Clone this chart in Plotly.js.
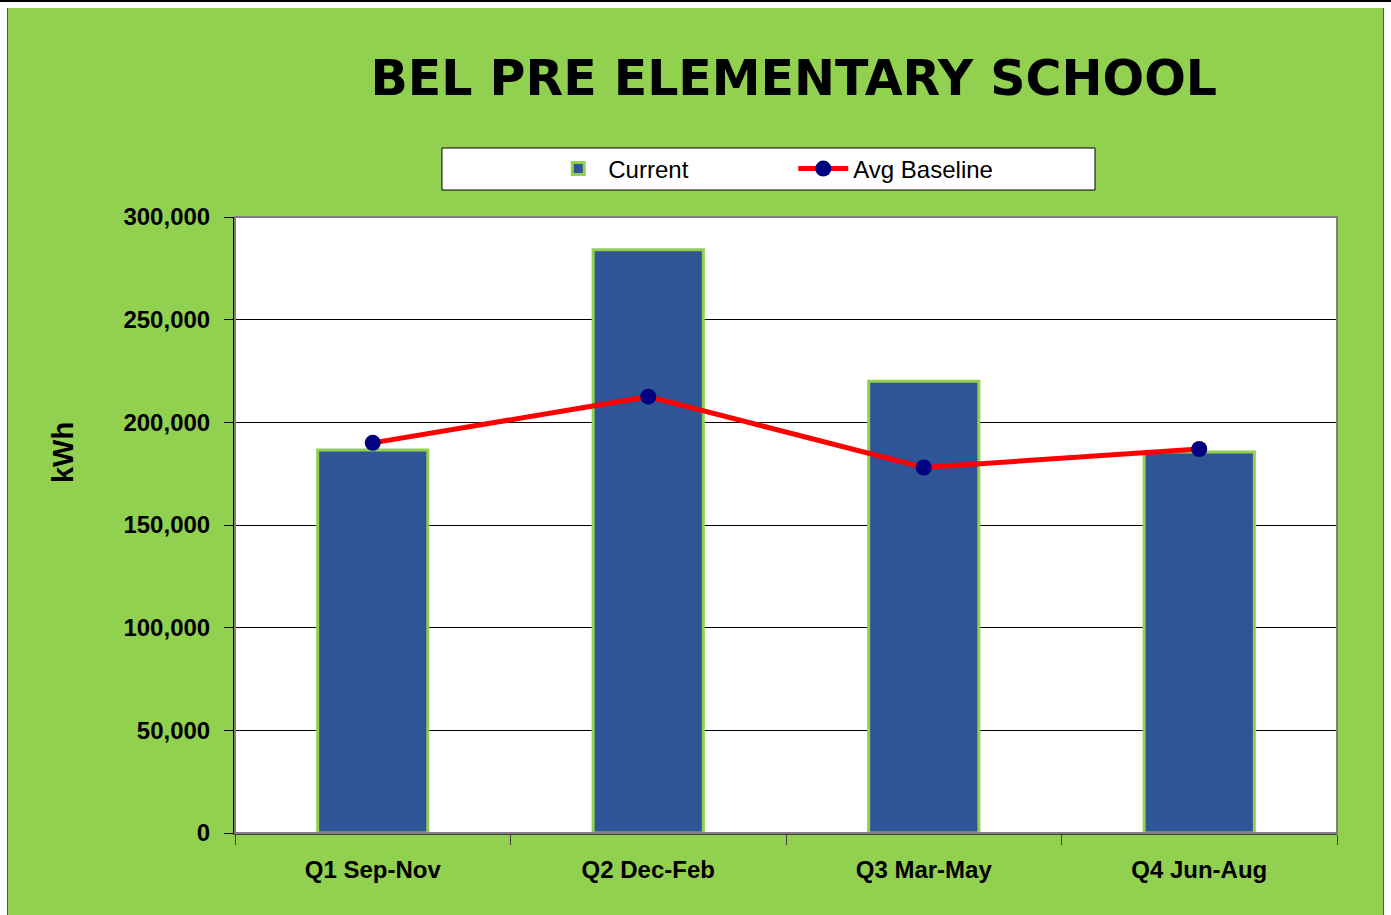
<!DOCTYPE html>
<html>
<head>
<meta charset="utf-8">
<script src="https://cdn.plot.ly/plotly-3.0.1.min.js"></script>
<style>
  html, body { margin: 0; padding: 0; background: #ffffff; width: 1391px; height: 915px; overflow: hidden; }
  #topline { position: absolute; left: 0; top: 0; width: 1391px; height: 2px; background: #000; }
  #chart { position: absolute; left: 7px; top: 8px; width: 1375px; height: 907px;
           border-left: 1px solid #555; border-right: 1px solid #555; }
</style>
</head>
<body>
<div id="topline"></div>
<div id="chart"></div>
<script>
const categories = ["Q1 Sep-Nov", "Q2 Dec-Feb", "Q3 Mar-May", "Q4 Jun-Aug"];
const currentValues = [186500, 284000, 220000, 185500];
const baselineValues = [190000, 212500, 178000, 187000];
const yTickValues = [0, 50000, 100000, 150000, 200000, 250000, 300000];

const tickFont = { family: "Liberation Sans, Arial, sans-serif", size: 24, color: "#000", weight: "bold" };

const traces = [
  {
    type: "bar",
    name: "Current",
    x: categories,
    y: currentValues,
    marker: { color: "#2F5597", line: { color: "#92D050", width: 3 } },
    hoverinfo: "x+y"
  },
  {
    type: "scatter",
    mode: "lines+markers",
    name: "Avg Baseline",
    x: categories,
    y: baselineValues,
    line: { color: "#FF0000", width: 5 },
    marker: { color: "#000080", size: 16 },
    hoverinfo: "x+y"
  }
];

const layout = {
  width: 1375,
  height: 907,
  paper_bgcolor: "#92D050",
  plot_bgcolor: "#FFFFFF",
  margin: { l: 227, r: 46, t: 209, b: 82, pad: 0 },
  title: {
    text: "<b>BEL PRE ELEMENTARY SCHOOL</b>",
    font: { family: "DejaVu Sans, Arial Black, sans-serif", size: 49, color: "#000" },
    x: 0.507, xanchor: "center", xref: "paper",
    y: 0.923, yanchor: "middle", yref: "container"
  },
  showlegend: true,
  legend: {
    orientation: "h",
    x: 0.5066, xanchor: "center",
    y: 1.078, yanchor: "middle",
    bgcolor: "rgba(0,0,0,0)",
    borderwidth: 0,
    font: { family: "Liberation Sans, Arial, sans-serif", size: 24, color: "#000" },
    itemwidth: 50,
    entrywidth: 180,
    traceorder: "normal"
  },
  bargap: 0.6,
  xaxis: {
    type: "category",
    tickfont: tickFont,
    ticks: "outside",
    tickson: "boundaries",
    ticklen: 10,
    tickwidth: 1,
    tickcolor: "#404040",
    ticklabelstandoff: 14,
    showline: true,
    linecolor: "#404040",
    linewidth: 2,
    showgrid: false,
    automargin: false,
    fixedrange: true
  },
  yaxis: {
    range: [0, 300000],
    tickvals: yTickValues,
    tickformat: ",d",
    tickfont: tickFont,
    ticks: "outside",
    ticklen: 9,
    tickwidth: 1,
    tickcolor: "#000",
    ticklabelstandoff: 9,
    showline: true,
    linecolor: "#000",
    linewidth: 2,
    showgrid: true,
    gridcolor: "#000",
    gridwidth: 1,
    zeroline: false,
    automargin: false,
    fixedrange: true
  },
  annotations: [
    {
      text: "<b>kWh</b>",
      xref: "paper", yref: "paper",
      x: -0.156, y: 0.617,
      xanchor: "center", yanchor: "middle",
      textangle: -90,
      showarrow: false,
      font: { family: "Liberation Sans, Arial, sans-serif", size: 29, color: "#000" }
    }
  ],
  shapes: [
    {
      type: "rect", xref: "paper", yref: "paper",
      x0: 0, x1: 1, y0: 0, y1: 1,
      line: { color: "#808080", width: 2 },
      fillcolor: "rgba(0,0,0,0)", layer: "above"
    },
    {
      type: "rect", xref: "paper", yref: "paper",
      x0: 0.1878, x1: 0.7804, y0: 1.0438, y1: 1.112,
      line: { color: "#000", width: 1 },
      fillcolor: "#FFFFFF", layer: "below"
    }
  ]
};

Plotly.newPlot("chart", traces, layout, { displayModeBar: false, responsive: false });
</script>
</body>
</html>
